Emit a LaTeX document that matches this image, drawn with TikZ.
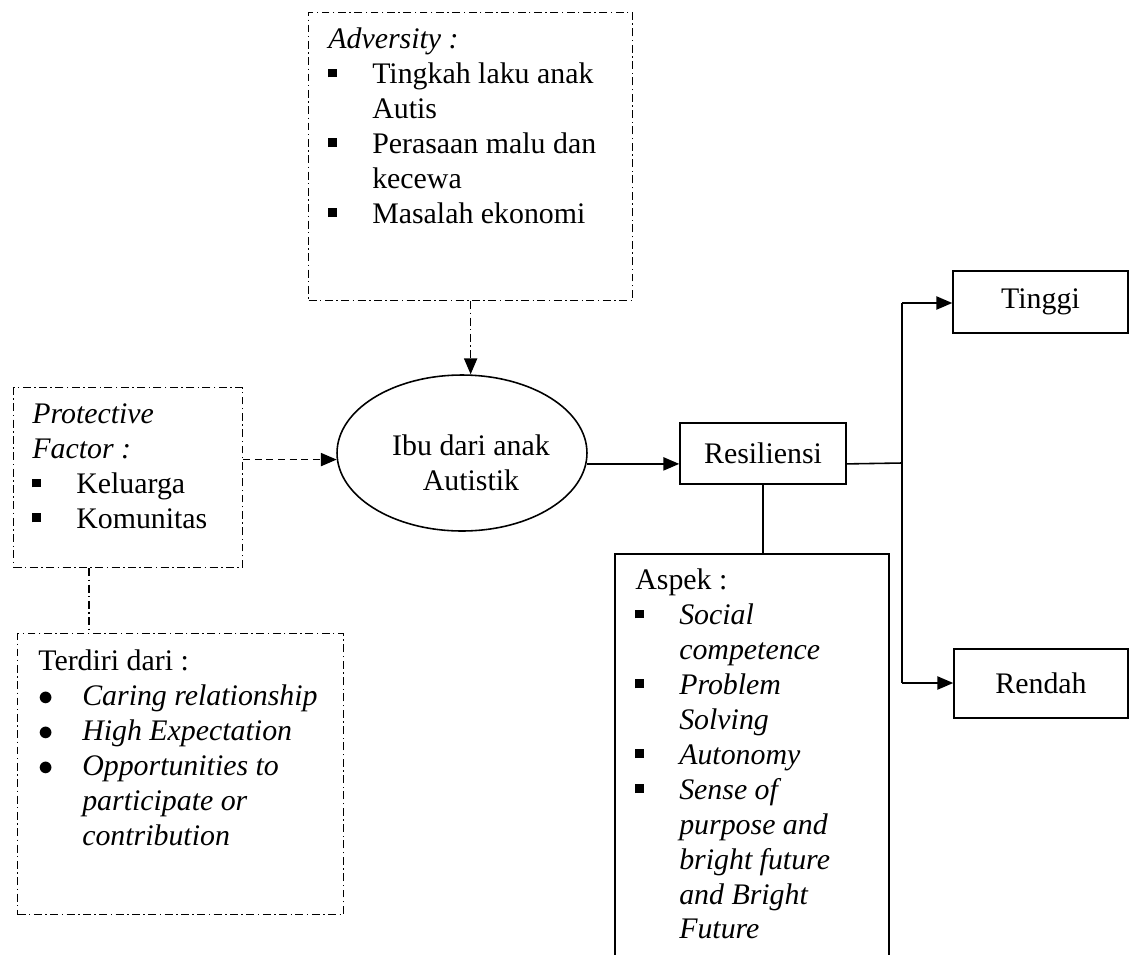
\documentclass[tikz,border=0pt]{standalone}
\usepackage{fontspec}
\setmainfont{Liberation Serif}
\usetikzlibrary{arrows.meta,shapes.geometric}

% list bullets
\newcommand{\sqbul}{\raisebox{3.4pt}{\rule{5pt}{5pt}}}
\newcommand{\rdbul}{$\bullet$}

\tikzset{
  frame/.style={draw,rectangle,line width=0.9pt,anchor=north west,inner sep=0pt},
  txt/.style={anchor=north west,inner sep=0pt,font=\fontsize{17}{19.9}\selectfont},
  lbl/.style={font=\fontsize{17}{19.9}\selectfont},
  dashdot/.style={line width=0.75pt,dash pattern=on 4.5pt off 2pt on 0.8pt off 2pt},
  dashline/.style={line width=0.8pt,dash pattern=on 4pt off 2.6pt},
  arr/.style={-{Triangle[length=9pt,width=7.5pt]},line width=0.9pt},
  line/.style={line width=0.9pt}
}

\begin{document}
\begin{tikzpicture}[x=0.02cm,y=-0.02cm]
  \useasboundingbox (0,0) rectangle (1129,954);
  \clip (0,0) rectangle (1129,954);
  % adversity (top)
  \node[frame,dashdot,minimum width=6.48cm,minimum height=5.76cm] (advbox) at (308,12) {};
  \node[txt] (advtxt) at (328,23.5) {\begin{tabular}{@{}p{25pt}@{}l@{}}
    \multicolumn{2}{@{}l@{}}{\textit{Adversity :}}\\
    \sqbul & Tingkah laku anak\\
           & Autis\\
    \sqbul & Perasaan malu dan\\
           & kecewa\\
    \sqbul & Masalah ekonomi
  \end{tabular}};
  % protective factor (left)
  \node[frame,dashdot,minimum width=4.58cm,minimum height=3.6cm] (protbox) at (13,387) {};
  \node[txt] (prottxt) at (32,398.5) {\begin{tabular}{@{}p{25pt}@{}l@{}}
    \multicolumn{2}{@{}l@{}}{\textit{Protective}}\\
    \multicolumn{2}{@{}l@{}}{\textit{Factor :}}\\
    \sqbul & Keluarga\\
    \sqbul & Komunitas
  \end{tabular}};
  % terdiri dari (bottom left)
  \node[frame,dashdot,minimum width=6.52cm,minimum height=5.62cm] (terbox) at (17,633) {};
  \node[txt] (tertxt) at (38,645.5) {\begin{tabular}{@{}p{25pt}@{}l@{}}
    \multicolumn{2}{@{}l@{}}{Terdiri dari :}\\
    \rdbul & \textit{Caring relationship}\\
    \rdbul & \textit{High Expectation}\\
    \rdbul & \textit{Opportunities to}\\
           & \textit{participate or}\\
           & \textit{contribution}
  \end{tabular}};
  % centre: mother
  \node[draw,ellipse,line width=0.9pt,minimum width=5cm,minimum height=3.12cm,inner sep=0pt] (ibu) at (462,453) {};
  \node[lbl,align=center] (ibutxt) at (471,463) {Ibu dari anak\\Autistik};
  % resilience and outcome
  \node[frame,lbl,anchor=center,minimum width=3.32cm,minimum height=1.22cm] (res) at (763,453.5) {Resiliensi};
  \node[frame,lbl,anchor=center,minimum width=3.5cm,minimum height=1.24cm] (ting) at (1040.5,302) {Tinggi};
  \node[frame,lbl,anchor=center,minimum width=3.48cm,minimum height=1.38cm] (rend) at (1041,683.5) {Rendah};
  % aspects (runs off the page)
  \node[frame,minimum width=5.48cm,minimum height=9cm] (asp) at (614,553) {};
  \node[txt] (asptxt) at (635,564.5) {\begin{tabular}{@{}p{25pt}@{}l@{}}
    \multicolumn{2}{@{}l@{}}{Aspek :}\\
    \sqbul & \textit{Social}\\
           & \textit{competence}\\
    \sqbul & \textit{Problem}\\
           & \textit{Solving}\\
    \sqbul & \textit{Autonomy}\\
    \sqbul & \textit{Sense of}\\
           & \textit{purpose and}\\
           & \textit{bright future}\\
           & \textit{and Bright}\\
           & \textit{Future}
  \end{tabular}};
  % branch points
  \coordinate (pd) at (89,0);
  \coordinate (jn) at (902,463);
  \coordinate (tp) at (902,303);
  \coordinate (bt) at (902,683);
  % connectors
  \draw[arr,dashdot] (advbox.south) -- (advbox.south |- ibu.north);
  \draw[arr,dashline] (protbox.east |- ibu.183) -- (ibu.183);
  \draw[dashdot] (protbox.south -| pd) -- (terbox.north -| pd);
  \draw[arr] (ibu.-5) -- (ibu.-5 -| res.west);
  \draw[line] (ibu.-5 -| res.east) -- (jn);
  \draw[line] (tp) -- (bt);
  \draw[arr] (tp) -- (tp -| ting.west);
  \draw[arr] (bt) -- (bt -| rend.west);
  \draw[line] (res.south) -- (res.south |- asp.north);
\end{tikzpicture}
\end{document}
